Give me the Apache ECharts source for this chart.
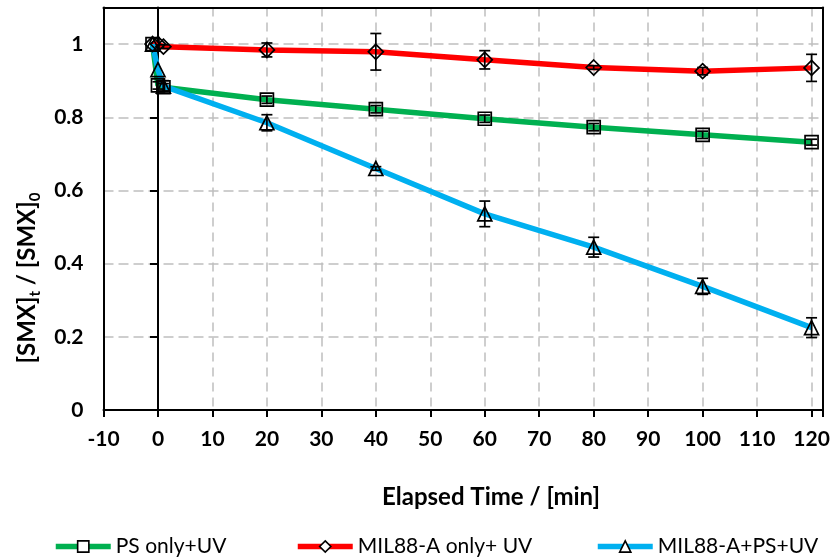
<!DOCTYPE html>
<html><head><meta charset="utf-8">
<script src="https://cdn.jsdelivr.net/npm/echarts@6/dist/echarts.min.js"></script>
<style>html,body{margin:0;padding:0;background:#fff}#c{width:833px;height:558px}</style>
</head><body><div id="c"></div>
<script>
// Elapsed time (min)
const time = [-1, 0, 1, 20, 40, 60, 80, 100, 120];
// [SMX]t / [SMX]0
const psOnly = [1.0, 0.887, 0.882, 0.848, 0.822, 0.796, 0.773, 0.752, 0.732];
const psOnlyErr = [0, 0.01, 0.01, 0.01, 0.01, 0.01, 0.01, 0.01, 0.008];
const milOnly = [1.0, 1.0, 0.993, 0.984, 0.979, 0.957, 0.936, 0.926, 0.935];
const milOnlyErr = [0, 0, 0.005, 0.019, 0.05, 0.025, 0.005, 0.01, 0.037];
const milPs = [1.0, 0.93, 0.885, 0.785, 0.66, 0.536, 0.445, 0.338, 0.225];
const milPsErr = [0, 0, 0.015, 0.022, 0.005, 0.035, 0.027, 0.022, 0.027];
const seriesNames = ['PS only+UV', 'MIL88-A only+ UV', 'MIL88-A+PS+UV'];
const xTickLabels = [-10, 0, 10, 20, 30, 40, 50, 60, 70, 80, 90, 100, 110, 120];
const yTickLabels = ['0', '0.2', '0.4', '0.6', '0.8', '1'];

const colors = ['#00B050', '#FF0000', '#00B0F0'];
const symbols = ['rect', 'diamond', 'triangle'];
const symbolSizes = [[13, 13], [15, 15], [14, 14]];
const FONT = 'Lato';
const X_MIN = -10, X_MAX = 122.1, Y_MIN = 0, Y_MAX = 1.1;

const chart = echarts.init(document.getElementById('c'), null, {renderer: 'canvas'});

function lineSeries(i, vals) {
  return {
    name: seriesNames[i], type: 'line', z: 3,
    data: time.map((t, k) => [t, vals[k]]),
    symbol: symbols[i], symbolSize: symbolSizes[i],
    showAllSymbol: true,
    lineStyle: {color: colors[i], width: 5.5},
    itemStyle: {color: 'transparent', borderColor: '#000', borderWidth: 1.7},
    emphasis: {disabled: true},
    animation: false
  };
}
function errSeries(i, vals, errs) {
  return {
    name: 'err' + i, type: 'custom', z: 4,
    data: time.map((t, k) => [t, vals[k], errs[k]]),
    renderItem: function (params, api) {
      const x = api.value(0), y = api.value(1), e = api.value(2);
      if (!e) return null;
      const top = api.coord([x, y + e]);
      const bot = api.coord([x, y - e]);
      const w = 5.5;
      const st = {stroke: '#000', lineWidth: 1.7};
      return {type: 'group', children: [
        {type: 'line', shape: {x1: top[0], y1: top[1], x2: bot[0], y2: bot[1]}, style: st},
        {type: 'line', shape: {x1: top[0] - w, y1: top[1], x2: top[0] + w, y2: top[1]}, style: st},
        {type: 'line', shape: {x1: bot[0] - w, y1: bot[1], x2: bot[0] + w, y2: bot[1]}, style: st}
      ]};
    },
    animation: false
  };
}

function legendAt(i, left) {
  return {
    data: [seriesNames[i]], left: left, top: 536, orient: 'horizontal', padding: 0,
    itemWidth: 55, itemHeight: 14, itemGap: 0,
    itemStyle: {color: '#fff', borderColor: '#000', borderWidth: 1.6},
    lineStyle: {width: 5.5},
    textStyle: {fontFamily: FONT, fontSize: 21, color: '#000'},
    selectedMode: false
  };
}

function frameAxis(pos, isX) {
  return {
    type: 'value', position: pos, min: isX ? X_MIN : Y_MIN, max: isX ? X_MAX : Y_MAX,
    axisLine: {show: true, onZero: false, lineStyle: {color: '#000', width: 2}},
    axisTick: {show: false}, axisLabel: {show: false}, splitLine: {show: false}, z: 5
  };
}

const option = {
  backgroundColor: '#fff',
  animation: false,
  textStyle: {fontFamily: FONT},
  grid: {left: 103.5, right: 10, top: 7.5, bottom: 148, show: false},
  legend: [legendAt(0, 53), legendAt(1, 295), legendAt(2, 595)],
  xAxis: [{
    type: 'value', min: X_MIN, max: X_MAX, interval: 10,
    axisLine: {show: true, onZero: true, lineStyle: {color: '#000', width: 2}},
    axisTick: {show: true, length: 7, lineStyle: {color: '#000', width: 2}},
    axisLabel: {
      margin: 19, fontFamily: FONT, fontSize: 21, fontWeight: 'bold', color: '#000',
      formatter: function (v) { const r = Math.round(v); return xTickLabels.indexOf(r) >= 0 && Math.abs(v - r) < 1e-6 ? String(r) : ''; }
    },
    splitLine: {show: true, showMinLine: false, showMaxLine: false, lineStyle: {color: '#BFBFBF', width: 1.5, type: [9, 6]}}
  }, frameAxis('top', true)],
  yAxis: [{
    type: 'value', min: Y_MIN, max: Y_MAX, interval: 0.2,
    axisLine: {show: true, onZero: true, lineStyle: {color: '#000', width: 2}},
    axisTick: {show: true, length: 8, lineStyle: {color: '#000', width: 2}},
    axisLabel: {
      margin: 20, fontFamily: FONT, fontSize: 21, fontWeight: 'bold', color: '#000',
      formatter: function (v) { const k = Math.round(v / 0.2); return (Math.abs(v - k * 0.2) < 1e-6 && yTickLabels[k] !== undefined) ? yTickLabels[k] : ''; }
    },
    splitLine: {show: true, showMinLine: false, showMaxLine: false, lineStyle: {color: '#BFBFBF', width: 1.5, type: [10, 5]}}
  }, frameAxis('left', false), frameAxis('right', false)],
  graphic: [
    {
      type: 'text', x: 491, y: 497,
      style: {text: 'Elapsed Time / [min]', fontFamily: FONT, fontSize: 24, fontWeight: 'bold', fill: '#000', align: 'center', verticalAlign: 'middle'}
    },
    {
      type: 'text', x: 27, y: 278, rotation: Math.PI / 2,
      style: {
        text: '{a|[SMX]}{s|t}{a| / [SMX]}{s|0}',
        align: 'center', verticalAlign: 'middle',
        rich: {
          a: {fontFamily: FONT, fontSize: 24, fontWeight: 'bold', fill: '#000', lineHeight: 32, verticalAlign: 'middle'},
          s: {fontFamily: FONT, fontSize: 15, fontWeight: 'bold', fill: '#000', lineHeight: 15, verticalAlign: 'bottom'}
        }
      }
    }
  ],
  series: [
    lineSeries(0, psOnly), lineSeries(1, milOnly), lineSeries(2, milPs),
    errSeries(0, psOnly, psOnlyErr), errSeries(1, milOnly, milOnlyErr), errSeries(2, milPs, milPsErr)
  ]
};
chart.setOption(option);
</script></body></html>
